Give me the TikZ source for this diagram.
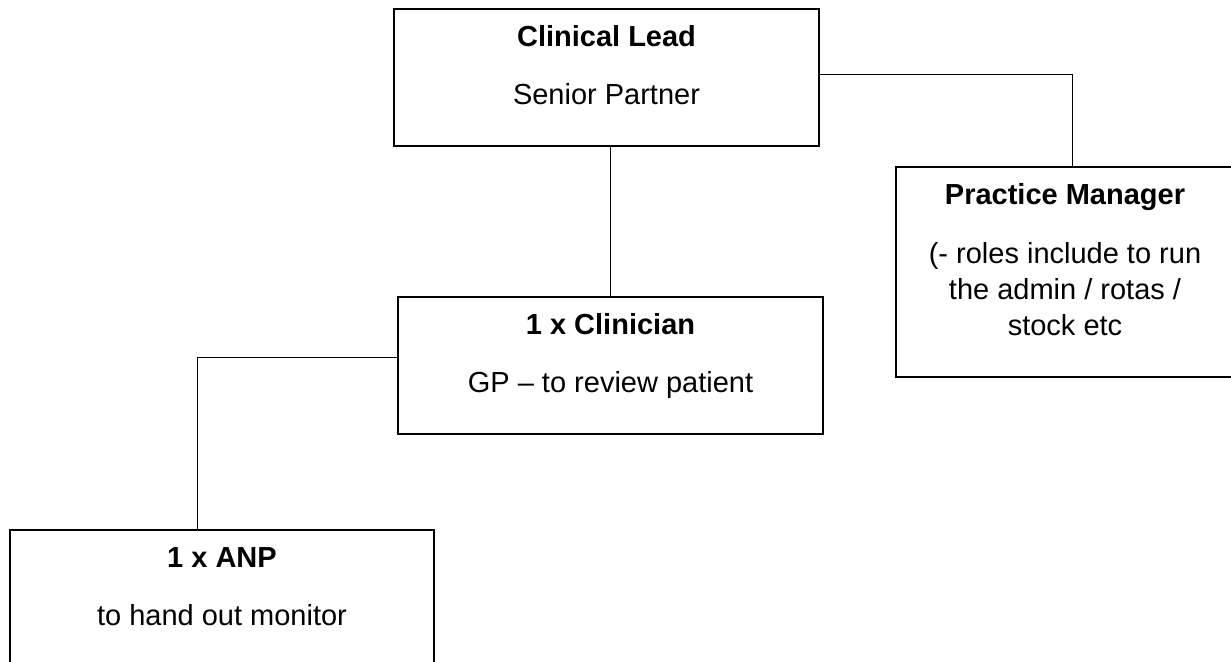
\documentclass[tikz,border=0pt]{standalone}
\usepackage{fontspec}
\setmainfont{Liberation Sans}
\usepackage{tikz}
\usetikzlibrary{calc}
\usetikzlibrary{positioning}

\begin{document}
\begin{tikzpicture}[x=0.5pt, y=-0.5pt,
		rolebox/.style={draw=black, line width=1pt, inner sep=0pt, minimum height=68.5pt},
		roletitle/.style={anchor=base, font=\fontsize{14.5}{18}\selectfont\bfseries},
		roletext/.style={anchor=base, align=center, font=\fontsize{14.5}{18}\selectfont},
		link/.style={draw=black, line width=0.5pt},
	]
		
		\clip (0, 0) rectangle (1231, 661);
		
		\node[rolebox, minimum width=212.5pt] (lead) at (606.5, 77.5) {};
		\node[rolebox, minimum width=212.5pt] (clin) at (610.5, 365.5) {};
		\node[rolebox, minimum width=169pt, minimum height=105pt] (pm) at (1065, 272) {};
		\node[rolebox, minimum width=212pt] (anp) at (222, 598.5) {};
		
		\node[roletitle] (leadT) at ($(lead.north)+(0, 38)$) {Clinical Lead};
		\node[roletext]  (leadS) at ($(lead.north)+(0, 96)$) {Senior Partner};
		\node[roletitle] (clinT) at ($(clin.north)+(0, 38)$) {1 x Clinician};
		\node[roletext]  (clinS) at ($(clin.north)+(0, 96)$) {GP -- to review patient};
		\node[roletitle] (pmT)   at ($(pm.north)+(0, 38)$)   {Practice Manager};
		% base of a wrapped node sits on its last line
		\node[roletext]  (pmS)   at ($(pm.north)+(0, 169)$)  {(- roles include to run\\the admin / rotas /\\stock etc};
		\node[roletitle] (anpT)  at ($(anp.north)+(0, 38)$)  {1 x ANP};
		\node[roletext]  (anpS)  at ($(anp.north)+(0, 96)$)  {to hand out monitor};
		
		\draw[link] (clin.north) -- (clin.north |- lead.south);
		\draw[link] ($(lead.east)+(0, -3.5)$) -| ($(pm.north)+(7, 0)$);
		\draw[link] ($(clin.west)+(0, -8.5)$) -| ($(anp.north)+(-25, 0)$);
		
	\end{tikzpicture}
\end{document}
